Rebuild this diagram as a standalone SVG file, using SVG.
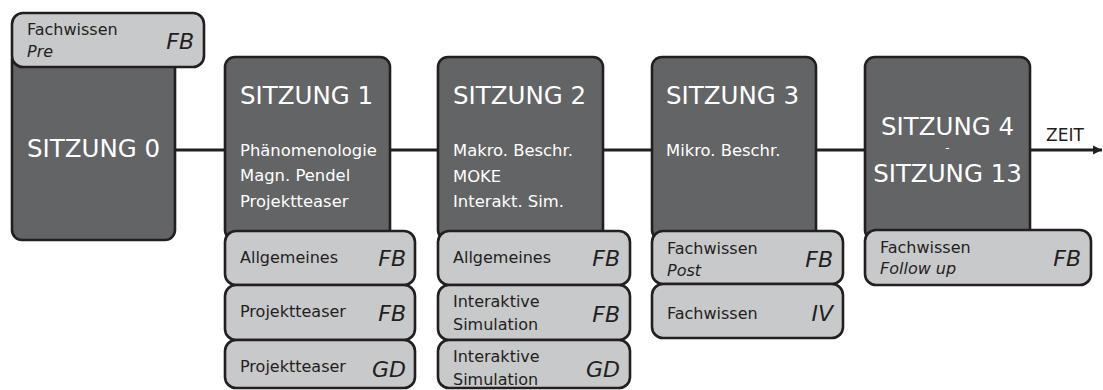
<svg xmlns="http://www.w3.org/2000/svg" width="1103" height="390" viewBox="0 0 1103 390">
<defs>
<marker id="arr" viewBox="0 0 10 10" refX="10" refY="5" markerWidth="3" markerHeight="3.4" orient="auto" markerUnits="strokeWidth">
<path d="M0,0 L10,5 L0,10 Z" fill="#231f20"/>
</marker>
<style>
.dark{fill:#636466;stroke:#231f20;stroke-width:2.6}
.light{fill:#c8c9cb;stroke:#231f20;stroke-width:2.6}
.title{font-family:"DejaVu Sans",sans-serif;font-size:24.5px;fill:#ffffff}
.body{font-family:"DejaVu Sans",sans-serif;font-size:16.4px;fill:#ffffff}
.sub{font-family:"DejaVu Sans",sans-serif;font-size:16px;fill:#231f20}
.it{font-style:italic}
.tag{font-family:"DejaVu Sans",sans-serif;font-size:22px;font-style:italic;fill:#231f20;text-anchor:end}
.conn{stroke:#231f20;stroke-width:3;fill:none}
</style>
</defs>
<rect width="1103" height="390" fill="#ffffff"/>
<g id="connectors">
<line class="conn" x1="175" y1="150" x2="225" y2="150"/>
<line class="conn" x1="390" y1="150" x2="438" y2="150"/>
<line class="conn" x1="603" y1="150" x2="652" y2="150"/>
<line class="conn" x1="816" y1="150" x2="865" y2="150"/>
<line class="conn" x1="1030" y1="150" x2="1102" y2="150" marker-end="url(#arr)"/>
<text x="1046" y="141" font-family="DejaVu Sans, sans-serif" font-size="17" fill="#231f20">ZEIT</text>
</g>
<g id="sitzung0">
<rect class="dark" x="12" y="50" width="163" height="190" rx="10"/>
<text class="title" x="27" y="157">SITZUNG 0</text>
</g>
<g id="fachwissen-pre">
<rect class="light" x="12" y="13" width="192" height="54" rx="11"/>
<text class="sub" x="27" y="35">Fachwissen</text>
<text class="sub it" x="27" y="57">Pre</text>
<text class="tag" x="194" y="49">FB</text>
</g>
<g id="sitzung1">
<rect class="dark" x="225" y="57" width="165" height="183" rx="10"/>
<text class="title" x="240" y="104">SITZUNG 1</text>
<text class="body" x="240" y="156">Phänomenologie</text>
<text class="body" x="240" y="181">Magn. Pendel</text>
<text class="body" x="240" y="207">Projektteaser</text>
</g>
<g id="s1-allgemeines">
<rect class="light" x="225" y="231" width="190" height="54" rx="11"/>
<text class="sub" x="240" y="263">Allgemeines</text>
<text class="tag" x="406" y="266">FB</text>
</g>
<g id="s1-projektteaser-fb">
<rect class="light" x="225" y="285" width="190" height="55" rx="11"/>
<text class="sub" x="240" y="317">Projektteaser</text>
<text class="tag" x="406" y="321">FB</text>
</g>
<g id="s1-projektteaser-gd">
<rect class="light" x="225" y="340" width="190" height="48" rx="11"/>
<text class="sub" x="240" y="372">Projektteaser</text>
<text class="tag" x="406" y="377">GD</text>
</g>
<g id="sitzung2">
<rect class="dark" x="438" y="57" width="165" height="183" rx="10"/>
<text class="title" x="453" y="104">SITZUNG 2</text>
<text class="body" x="453" y="156">Makro. Beschr.</text>
<text class="body" x="453" y="182">MOKE</text>
<text class="body" x="453" y="207">Interakt. Sim.</text>
</g>
<g id="s2-allgemeines">
<rect class="light" x="438" y="231" width="192" height="54" rx="11"/>
<text class="sub" x="453" y="263">Allgemeines</text>
<text class="tag" x="620" y="266">FB</text>
</g>
<g id="s2-sim-fb">
<rect class="light" x="438" y="285" width="192" height="55" rx="11"/>
<text class="sub" x="453" y="307">Interaktive</text>
<text class="sub" x="453" y="330">Simulation</text>
<text class="tag" x="620" y="322">FB</text>
</g>
<g id="s2-sim-gd">
<rect class="light" x="438" y="340" width="192" height="48" rx="11"/>
<text class="sub" x="453" y="362">Interaktive</text>
<text class="sub" x="453" y="385">Simulation</text>
<text class="tag" x="620" y="377">GD</text>
</g>
<g id="sitzung3">
<rect class="dark" x="652" y="57" width="164" height="183" rx="10"/>
<text class="title" x="666" y="104">SITZUNG 3</text>
<text class="body" x="666" y="156">Mikro. Beschr.</text>
</g>
<g id="s3-fachwissen-post">
<rect class="light" x="652" y="231" width="191" height="53" rx="11"/>
<text class="sub" x="667" y="254">Fachwissen</text>
<text class="sub it" x="667" y="276">Post</text>
<text class="tag" x="833" y="267">FB</text>
</g>
<g id="s3-fachwissen-iv">
<rect class="light" x="652" y="284" width="191" height="54" rx="11"/>
<text class="sub" x="667" y="319">Fachwissen</text>
<text class="tag" x="833" y="321">IV</text>
</g>
<g id="sitzung4">
<rect class="dark" x="865" y="57" width="165" height="183" rx="10"/>
<text class="title" x="947.5" y="135" text-anchor="middle">SITZUNG 4</text>
<text x="947.5" y="152" text-anchor="middle" font-family="DejaVu Sans, sans-serif" font-size="12" fill="#ffffff">-</text>
<text class="title" x="947.5" y="182" text-anchor="middle">SITZUNG 13</text>
</g>
<g id="s4-fachwissen-followup">
<rect class="light" x="865" y="230" width="226" height="55" rx="11"/>
<text class="sub" x="880" y="253">Fachwissen</text>
<text class="sub it" x="880" y="274">Follow up</text>
<text class="tag" x="1081" y="266">FB</text>
</g>
</svg>
